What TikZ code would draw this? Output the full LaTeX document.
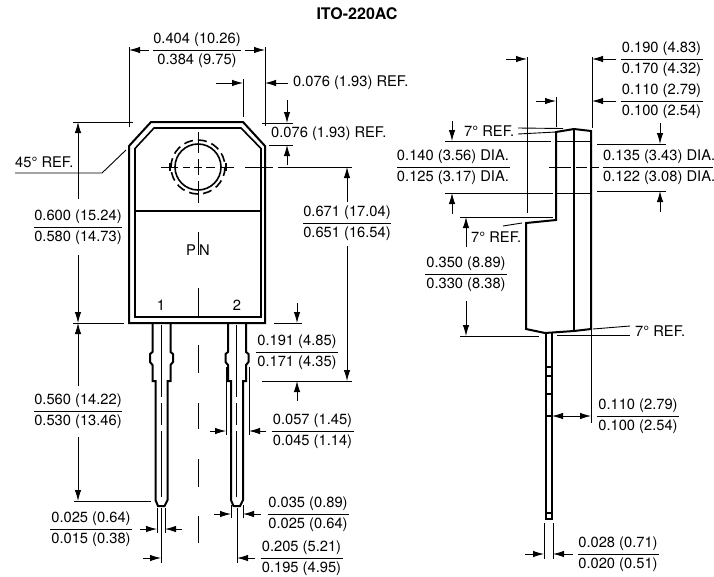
\documentclass[tikz,border=0pt]{standalone}
\usepackage{fontspec}
\setmainfont{TeX Gyre Heros}
\usetikzlibrary{arrows.meta}
\tikzset{
  thick part/.style={line width=2pt,line join=miter},
  thin/.style={line width=0.9pt},
  dimarrow/.style={line width=0.9pt,-{Latex[length=11pt,width=6.5pt]}},
  dimboth/.style={line width=0.9pt,{Latex[length=11pt,width=6.5pt]}-{Latex[length=11pt,width=6.5pt]}},
  lbl/.style={inner sep=0pt,font=\fontsize{14.7}{16}\selectfont},
  centerline/.style={line width=0.9pt},
}
% fraction: centre x, line y, half width, top, bottom
\newcommand{\dimfrac}[5]{%
  \draw[thin] (#1-#3,#2) -- (#1+#3,#2);
  \node[lbl] at (#1,#2-10.5) {#4};
  \node[lbl] at (#1,#2+10.5) {#5};
}
\begin{document}
\begin{tikzpicture}[x=1pt,y=-1pt]
\useasboundingbox (0,0) rectangle (714,576);
\node[lbl,font=\fontsize{16}{18}\selectfont\bfseries] (title) at (357,13.5) {ITO-220AC};

%% ---------- front view body
\draw[thick part] (129,146) -- (151,122) -- (243,122) -- (265,146) -- (265,323) -- (129,323) -- cycle;
\draw[thick part,line width=1.6pt] (135,148.5) -- (154,128) -- (241,128) -- (261,148.5) -- (261,317) -- (135,317) -- cycle;
\draw[line width=1.6pt] (135,211) -- (261,211);
\draw[line width=1.6pt] (198,167) circle (23);
\draw[line width=1.6pt,dash pattern=on 9pt off 5.1pt] (198,167) circle (27);
% centre marks
\draw[centerline] (198,132) -- (198,153) (198,159) -- (198,175) (198,181) -- (198,203);
\draw[centerline] (161,167) -- (178,167) (183,167) -- (190,167) (194,167) -- (202,167) (206,167) -- (215,167) (220,167) -- (234,167);
\draw[centerline] (245,167) -- (273,167) (278,167) -- (352,167);
\draw[line width=1.2pt] (170,163) -- (170,171) (226,163) -- (226,171);
\draw[centerline] (198,232) -- (198,255) (198,288) -- (198,317);
\draw[centerline] (198,345) -- (198,373) (198,403) -- (198,429) (198,459) -- (198,487) (198,516) -- (198,543);
\node[lbl] (pin) at (198,250) {P\hspace{3.2pt}N};
\node[lbl] (one) at (161,305) {1};
\node[lbl] (two) at (237,305) {2};

%% ---------- leads
\foreach \dx in {0,75.5} {
\begin{scope}[xshift=\dx pt]
\draw[thick part] (152.5,323) -- (152.5,352) -- (150,354) -- (150,362) -- (152.5,365) -- (152.5,381) -- (155.5,381) -- (155.5,500) -- (158,506) -- (164.5,506) -- (167.5,500) -- (167.5,381) -- (170.5,381) -- (170.5,365) -- (173,362) -- (173,354) -- (170.5,352) -- (170.5,323);
\draw[thin] (161,325) -- (161,397) (161,403) -- (161,425) (161,431) -- (161,497);
\end{scope}}
\draw[thin] (161,508) -- (161,563);
\draw[thin] (237,508) -- (237,563);

%% ---------- front view dimensions
\coordinate (wl) at (129,50); \coordinate (wr) at (265,50);
\draw[thin] (129,47) -- (129,127);
\draw[thin] (265,47) -- (265,126);
\draw[dimarrow] (149,50) -- (wl);
\draw[dimarrow] (245,50) -- (wr);
\dimfrac{197}{50}{44}{0.404 (10.26)}{0.384 (9.75)}

\draw[thin] (243,79) -- (243,117);
\draw[dimarrow] (216,83) -- (243,83);
\draw[dimarrow] (288,83) -- (265,83);
\node[lbl,anchor=west] at (293,83) {0.076 (1.93) REF.};

\draw[thin] (262,123) -- (293,123);
\draw[thin] (269,145) -- (293,145);
\draw[dimarrow] (287,100) -- (287,123);
\draw[dimarrow] (287,165) -- (287,145);
\node[lbl,anchor=west] at (271,134) {0.076 (1.93) REF.};

\draw[thin] (73,122) -- (133,122);
\draw[thin] (73,323) -- (124,323);
\draw[dimarrow] (78,199) -- (78,122);
\draw[dimarrow] (78,255) -- (78,323);
\dimfrac{78}{227.5}{44}{0.600 (15.24)}{0.580 (14.73)}

\draw[thin] (15,173) -- (102,173) -- (126,150);
\node[lbl,anchor=west] at (15,162) {45° REF.};

\draw[thin] (262,381) -- (352,381);
\draw[dimarrow] (347,202) -- (347,167);
\draw[dimarrow] (347,246) -- (347,381);
\dimfrac{347}{223}{44}{0.671 (17.04)}{0.651 (16.54)}

\draw[thin] (274,323) -- (302,323);
\draw[dimarrow] (297,303) -- (297,323);
\draw[dimarrow] (297,401) -- (297,381);
\dimfrac{297}{352}{41}{0.191 (4.85)}{0.171 (4.35)}

\draw[thin] (74,501) -- (151,501);
\draw[dimarrow] (78,386) -- (78,323);
\draw[dimarrow] (78,437) -- (78,501);
\dimfrac{78}{411}{44}{0.560 (14.22)}{0.530 (13.46)}

\draw[thin] (157,508) -- (157,533) (165,508) -- (165,533);
\draw[dimarrow] (140,529) -- (157,529);
\draw[dimarrow] (182,529) -- (165,529);
\dimfrac{91}{529.5}{41}{0.025 (0.64)}{0.015 (0.38)}

\draw[thin] (226,367) -- (226,435) (249,367) -- (249,435);
\draw[dimarrow] (210,431) -- (226,431);
\draw[dimarrow] (266,431) -- (249,431);
\dimfrac{312.5}{431}{41}{0.057 (1.45)}{0.045 (1.14)}

\draw[thin] (231,505) -- (231,518) (243,505) -- (243,518);
\draw[dimarrow] (214,514) -- (231,514);
\draw[dimarrow] (261,514) -- (243,514);
\dimfrac{308}{514}{40.5}{0.035 (0.89)}{0.025 (0.64)}

\draw[dimarrow] (143,558) -- (161,558);
\draw[dimarrow] (255,558) -- (237,558);
\dimfrac{301.5}{558}{41}{0.205 (5.21)}{0.195 (4.95)}

%% ---------- side view body
\draw[thick part] (556,132) -- (574,129) -- (591,131) -- (591,329) -- (574,331) -- (545,333) -- (526,329) -- (526,223) -- (556,220) -- cycle;
\draw[line width=1.6pt] (574,129) -- (574,331);
\draw[thin] (556,141) -- (591,141) (556,193) -- (591,193);
\draw[thin] (549,167) -- (571,167) (576,167) -- (587,167) (591,167) -- (599,167);

%% ---------- side view lead
\draw[line width=1.7pt] (546,333) -- (546,519) -- (552,519) -- (552,333);
\draw[line width=1.2pt] (546,367) -- (552,367) (546,376) -- (552,376) (546,394) -- (552,394) (546,416) -- (552,416) (546,513) -- (552,513);

%% ---------- side view dimensions
\draw[thin] (527,57) -- (527,213);
\draw[thin] (592,57) -- (592,128);
\draw[dimarrow] (506,59) -- (527,59);
\draw[dimarrow] (616,59) -- (592,59);
\dimfrac{661.5}{59}{41}{0.190 (4.83)}{0.170 (4.32)}

\draw[thin] (556,97) -- (556,127);
\draw[dimarrow] (536,101) -- (556,101);
\draw[dimarrow] (616,101) -- (592,101);
\dimfrac{661.5}{101}{41}{0.110 (2.79)}{0.100 (2.54)}

\node[lbl,anchor=west] at (464,131) {7° REF.};
\draw[thin] (518,128) -- (563,128.5) (518,134) -- (556,132);
\draw[thin] (445,141) -- (551,141);
\draw[thin] (445,193) -- (553,193);
\draw[dimarrow] (452,121) -- (452,141);
\draw[dimarrow] (452,214) -- (452,193);
\draw[thin] (397,167) -- (510,167);
\node[lbl] at (453,157) {0.140 (3.56) DIA.};
\node[lbl] at (453,178) {0.125 (3.17) DIA.};

\draw[thin] (597,144) -- (666,144);
\draw[thin] (597,191) -- (666,191);
\draw[dimarrow] (660,123) -- (660,144);
\draw[dimarrow] (660,212) -- (660,191);
\draw[thin] (603,167) -- (713,167);
\node[lbl,anchor=west] at (603,157) {0.135 (3.43) DIA.};
\node[lbl,anchor=west] at (603,178) {0.122 (3.08) DIA.};

\node[lbl,anchor=west] at (471,237) {7° REF.};
\draw[thin] (503,226) -- (522,223);
\draw[thin] (460,217) -- (553,217);
\draw[thin] (460,336) -- (539,336);
\draw[dimarrow] (466,247) -- (466,217);
\draw[dimarrow] (466,301) -- (466,336);
\dimfrac{466}{274}{41}{0.350 (8.89)}{0.330 (8.38)}

\node[lbl,anchor=west] at (635,331) {7° REF.};
\draw[thin] (593,329) -- (630,326);
\draw[thin] (557,335.5) -- (630,335.5);

\draw[thin] (591,329) -- (591,423);
\draw[dimboth] (552,416) -- (591,416);
\dimfrac{638}{416}{41}{0.110 (2.79)}{0.100 (2.54)}

\draw[thin] (544,523) -- (544,559) (553,523) -- (553,559);
\draw[dimarrow] (525,554) -- (544,554);
\draw[dimarrow] (573,554) -- (553,554);
\dimfrac{618}{554}{40.5}{0.028 (0.71)}{0.020 (0.51)}
\end{tikzpicture}
\end{document}
